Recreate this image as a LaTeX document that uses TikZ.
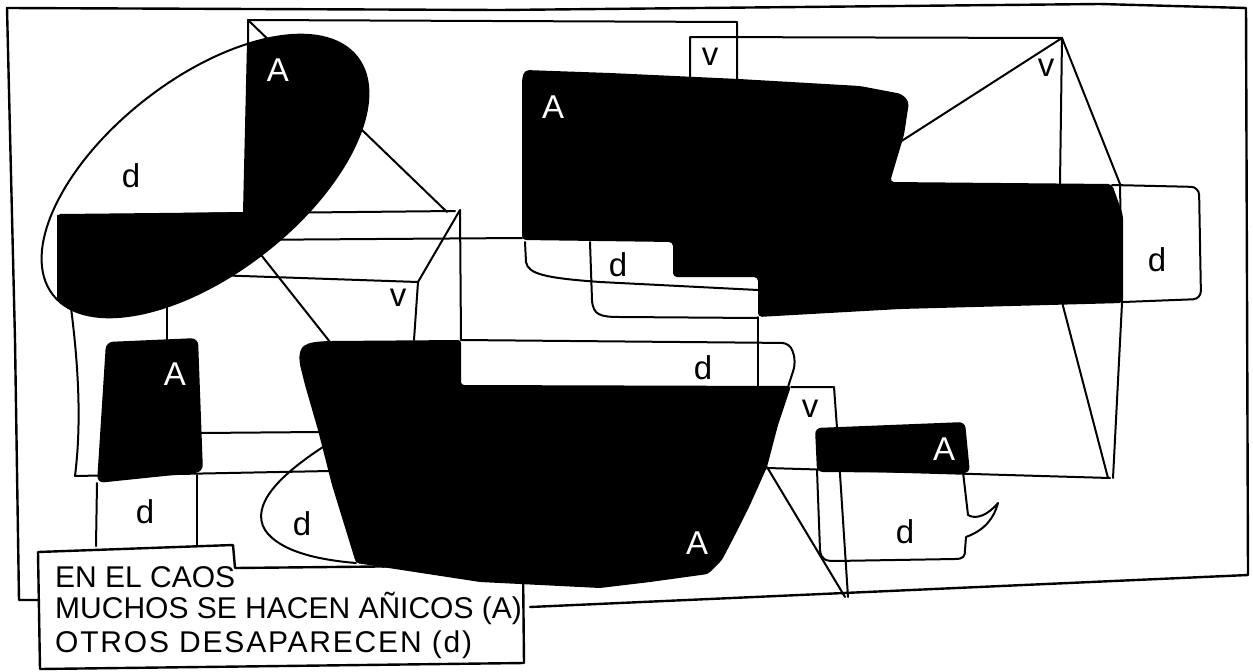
\documentclass[tikz,border=0pt]{standalone}
\usepackage{fontspec}
\setmainfont{Liberation Sans}
\usetikzlibrary{calc}
\tikzset{
  trazo/.style={line width=2pt, line join=round, line cap=round},
  marco/.style={line width=2.4pt, line join=round, line cap=round},
  letra/.style={font=\fontsize{33}{33}\selectfont, inner sep=0pt},
  letraA/.style={letra, text=white},
  leyenda/.style={font=\fontsize{30}{34}\selectfont, anchor=base west, inner sep=0pt},
}

\begin{document}
\begin{tikzpicture}[x=1pt,y=-1pt]
\useasboundingbox (0,0) rectangle (1253,672);
% marco y recuadro del texto
\draw[marco] (38,600) -- (19,600) -- (15,340) -- (7,8) -- (500,10) -- (1100,4) -- (1246,8) -- (1248,575) -- (530,607);
\draw[marco] (38,552) -- (233,545) -- (235,568) -- (523,565) -- (524,663) -- (40,669) -- cycle;
% lineas de arriba
\draw[trazo] (248,60) -- (248,20) -- (737,22) -- (737,80);
\draw[trazo] (690,80) -- (690,37) -- (1062,38);
\draw[trazo] (1062,38) -- (900,142);
\draw[trazo] (1062,38) -- (1060,184) -- (1063,306) -- (1108,478);
\draw[trazo] (1062,38) -- (1120,184) -- (1122,303) -- (1113,478);
\draw[trazo, rounded corners=8pt] (1112,185) -- (1199,187) -- (1201,299) -- (1123,302);
% bajo la mancha de arriba
\draw[trazo] (525,242) -- (526,262) .. controls (528,274) and (545,278) .. (600,282) -- (758,290);
\draw[trazo] (590,242) -- (592,300) .. controls (593,315) and (600,317) .. (620,317) -- (758,318);
\draw[trazo] (758,317) -- (758,387);
% caja d sobre la taza y caja v
\draw[trazo, rounded corners=8pt] (461,340) -- (790,343) -- (796,362) -- (788,387);
\draw[trazo] (791,387) -- (834,387) -- (837,428) -- (848,597);
\draw[trazo] (767,467) -- (845,597);
% zona de la elipse
\draw[trazo] (60,215) -- (455,211);
\draw[trazo] (460,210) -- (418,282) -- (414,340);
\draw[trazo] (460,210) -- (461,340);
\draw[trazo] (248,20) -- (447,212);
\draw[trazo] (230,240) -- (522,238);
\draw[trazo] (213,275) -- (418,282);
\draw[trazo] (235,222) -- (330,342);
% abajo a la izquierda
\draw[trazo] (70,300) .. controls (78,360) and (82,420) .. (75,476) -- (330,471) -- (767,468) -- (1110,478);
\draw[trazo] (200,433) -- (320,432);
\draw[trazo] (167,298) -- (167,340);
\draw[trazo] (97,483) -- (96,546);
\draw[trazo] (197,475) -- (197,546);
\draw[trazo] (323,447) .. controls (280,475) and (250,505) .. (265,530) .. controls (280,552) and (320,560) .. (356,563);
\draw[trazo] (383,560) -- (383,567);
% caja d con cola
\draw[trazo] (817,470) -- (820,550) .. controls (821,560) and (826,561) .. (835,561) -- (955,559) .. controls (964,559) and (965,556) .. (965,550) -- (966,537) .. controls (985,530) and (994,518) .. (998,503) .. controls (988,515) and (976,520) .. (968,515) -- (963,472);

% manchas negras
\begin{scope}
  \clip[rotate around={38:(205,176)}] (205,176) ellipse [x radius=193, y radius=97];
  \fill (57,215) -- (243,212) -- (248,0) -- (420,0) -- (420,420) -- (57,420) -- cycle;
\end{scope}
\draw[trazo, rotate around={38:(205,176)}] (205,176) ellipse [x radius=193, y radius=97];
\fill[rounded corners=4pt] (522,240) -- (522,78) -- (525,70) -- (610,73) -- (739,79) -- (860,86) -- (902,94) -- (909,102) -- (904,135) -- (895,165) -- (890,182) -- (1112,184) -- (1123,215) -- (1123,303) -- (900,309) -- (758,317) -- (758,277) -- (673,277) -- (673,242) -- cycle;
\fill[rounded corners=7pt] (97,483) -- (106,342) -- (198,338) -- (203,472) -- cycle;
\fill[rounded corners=3pt] (461,340) -- (461,385) -- (791,386) -- (778,425) -- (767,467) -- (750,505) -- (735,535) -- (722,560) -- (708,574) -- (650,582) -- (600,588) -- (480,582) -- (356,563) -- (348,537) -- (332,485) -- (318,430) -- (305,385) -- (300,365) .. controls (298,345) and (305,342) .. (330,341) -- cycle;
\fill[rounded corners=6pt] (817,472) -- (815,428) -- (965,422) -- (970,473) -- cycle;

% letras
\node[letraA] (Aelipse) at (278,70) {A};
\node[letra] (delipse) at (131,176) {d};
\node[letra] (vcentro) at (398,298) {v};
\node[letra] (varriba) at (710,57) {v};
\node[letra] (vvertice) at (1046,68) {v};
\node[letraA] (Aarriba) at (553,107) {A};
\node[letra] (dpeldano) at (618,265) {d};
\node[letra] (dderecha) at (1157,260) {d};
\node[letraA] (Apequena) at (175,374) {A};
\node[letra] (dpequena) at (145,512) {d};
\node[letra] (dtaza) at (703,368) {d};
\node[letra] (vtaza) at (810,409) {v};
\node[letraA] (Acaja) at (944,449) {A};
\node[letra] (dcaja) at (905,532) {d};
\node[letra] (dburbuja) at (302,524) {d};
\node[letraA] (Ataza) at (697,543) {A};
\node[leyenda] (linea1) at (55,587) {EN EL CAOS};
\node[leyenda] (linea2) at (55,618) {MUCHOS SE HACEN AÑICOS (A)};
\node[leyenda] (linea3) at (55,652) {\addfontfeature{LetterSpace=6}OTROS DESAPARECEN (d)};
\end{tikzpicture}
\end{document}
